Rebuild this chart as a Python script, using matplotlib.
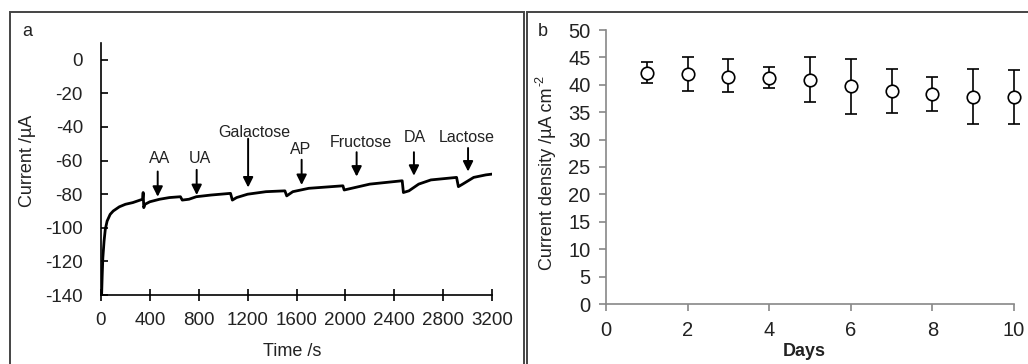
import numpy as np
import matplotlib
matplotlib.use("Agg")
import matplotlib.pyplot as plt
from matplotlib.patches import Rectangle

plt.rcParams['font.family'] = ['Liberation Sans', 'DejaVu Sans']
plt.rcParams['axes.unicode_minus'] = False

######################################
# panel a: amperometric response
time_s = [5, 10, 15, 25, 35, 50, 75, 100, 150, 200, 260, 340, 345, 350, 360, 400, 480, 560,
          650, 665, 720, 780, 900, 1060, 1075, 1110, 1200, 1350, 1505, 1520, 1570, 1700,
          1980, 1990, 2050, 2200, 2465, 2475, 2520, 2600, 2700, 2910, 2925, 2960, 3050,
          3150, 3205]
current_uA = [-140, -128, -118, -108, -101, -96, -92, -90, -87.5, -86, -85, -83, -79, -88,
              -86, -84.5, -83, -82, -81.5, -83.5, -83, -81.5, -80.5, -79.5, -83.5, -82, -80,
              -78.5, -78, -81, -78.5, -76.5, -75, -77.5, -76.5, -74, -72, -79, -78, -74,
              -71.5, -70, -75.5, -74, -70, -68.5, -68]

labels = ['AA', 'UA', 'Galactose', 'AP', 'Fructose', 'DA', 'Lactose']
label_x = [483, 810, 1252, 1635, 2126, 2570, 2994]
label_y = [-59, -59, -43, -53.5, -49.5, -46.5, -46.5]
arrow_x = [464, 783, 1204, 1642, 2092, 2561, 3004]
arrow_tail = [-66.5, -65.5, -47, -59.5, -55, -55, -52.5]
arrow_tip = [-81.5, -80.5, -76, -74.5, -69.5, -69, -66.5]

# panel b: stability over days
days = [1, 2, 3, 4, 5, 6, 7, 8, 9, 10]
density = [42.2, 42.0, 41.5, 41.3, 40.9, 39.8, 38.9, 38.4, 37.7, 37.7]
err_top = [44.2, 45.0, 44.7, 43.3, 45.0, 44.7, 42.9, 41.4, 42.9, 42.7]
err_bot = [40.3, 38.9, 38.6, 39.4, 36.9, 34.7, 34.8, 35.3, 32.8, 32.8]
######################################

W, H = 1028, 364
fig = plt.figure(figsize=(W / 100, H / 100), dpi=100)

def box(x, y, w, h):
    return [x / W, 1 - (y + h) / H, w / W, h / H]

# panel frames
fig.patches.append(Rectangle((10 / W, -0.1), (524 - 10) / W, 1.1 - 12 / H,
                             transform=fig.transFigure, fill=False, ec='#444444', lw=1.4))
fig.patches.append(Rectangle((527 / W, -0.1), 0.6, 1.1 - 12 / H,
                             transform=fig.transFigure, fill=False, ec='#444444', lw=1.4))

#### PANEL A
ax1 = fig.add_axes(box(101, 43, 391, 252))
ax1.plot(time_s, current_uA, color='black', lw=2)
ax1.set_xlim(0, 3200)
ax1.set_ylim(-140, 10)
ax1.set_xticks(range(0, 3201, 400))
ax1.set_yticks(range(-140, 1, 20))
for s in ['top', 'right']:
    ax1.spines[s].set_visible(False)
for s in ['left', 'bottom']:
    ax1.spines[s].set_linewidth(1.2)
ax1.tick_params(axis='x', direction='inout', length=8, width=1.2, labelsize=13.5, pad=8,
                labelcolor='#222222')
ax1.tick_params(axis='y', direction='in', length=5, width=1.2, labelsize=13.5, pad=13,
                labelcolor='#222222')

for lab, lx, ly, ax_, at, ap in zip(labels, label_x, label_y, arrow_x, arrow_tail, arrow_tip):
    ax1.text(lx, ly, lab, ha='center', va='center', fontsize=11.5, color='#222222')
    ax1.annotate('', xy=(ax_, ap), xytext=(ax_, at),
                 arrowprops=dict(arrowstyle='-|>', color='black', lw=1.4,
                                 mutation_scale=15, shrinkA=0, shrinkB=0))

fig.text(292 / W, 1 - 352 / H, 'Time /s', ha='center', va='center', fontsize=13, color='#222222')
fig.text(27 / W, 1 - 161 / H, 'Current /µA', ha='center', va='center', rotation=90,
         fontsize=13, color='#222222')
fig.text(27 / W, 1 - 32 / H, 'a', ha='center', va='center', fontsize=13, color='#222222')

#### PANEL B
ax2 = fig.add_axes(box(606, 30, 408, 274))
yerr = [np.array(density) - np.array(err_bot), np.array(err_top) - np.array(density)]
ax2.errorbar(days, density, yerr=yerr, fmt='o', mfc='white', mec='black', ms=9, mew=1.2,
             ecolor='black', elinewidth=1.2, capsize=4, capthick=1.2, clip_on=False, zorder=3)
ax2.set_xlim(0, 10)
ax2.set_ylim(0, 50)
ax2.set_xticks(range(0, 11, 2))
ax2.set_yticks(range(0, 51, 5))
for s in ['top', 'right']:
    ax2.spines[s].set_visible(False)
for s in ['left', 'bottom']:
    ax2.spines[s].set_color('#888888')
    ax2.spines[s].set_linewidth(1.2)
ax2.tick_params(axis='both', direction='out', length=5, width=1.2, color='#888888',
                labelsize=14.5, labelcolor='#222222')
ax2.tick_params(axis='x', pad=7)
ax2.tick_params(axis='y', pad=6)

fig.text(804 / W, 1 - 352 / H, 'Days', ha='center', va='center', fontsize=13,
         fontweight='bold', color='#222222')
# y label with a hyphen superscript, drawn as two texts
fig.text(547 / W, 1 - 87 / H, 'Current density /µA cm', ha='center', va='top',
         rotation=90, fontsize=13, color='#222222')
fig.text(541 / W, 1 - 75 / H, '-2', ha='center', va='top',
         rotation=90, fontsize=9, color='#222222')
fig.text(543 / W, 1 - 31 / H, 'b', ha='center', va='center', fontsize=13, color='#222222')

fig.savefig('out.png', dpi=100)
